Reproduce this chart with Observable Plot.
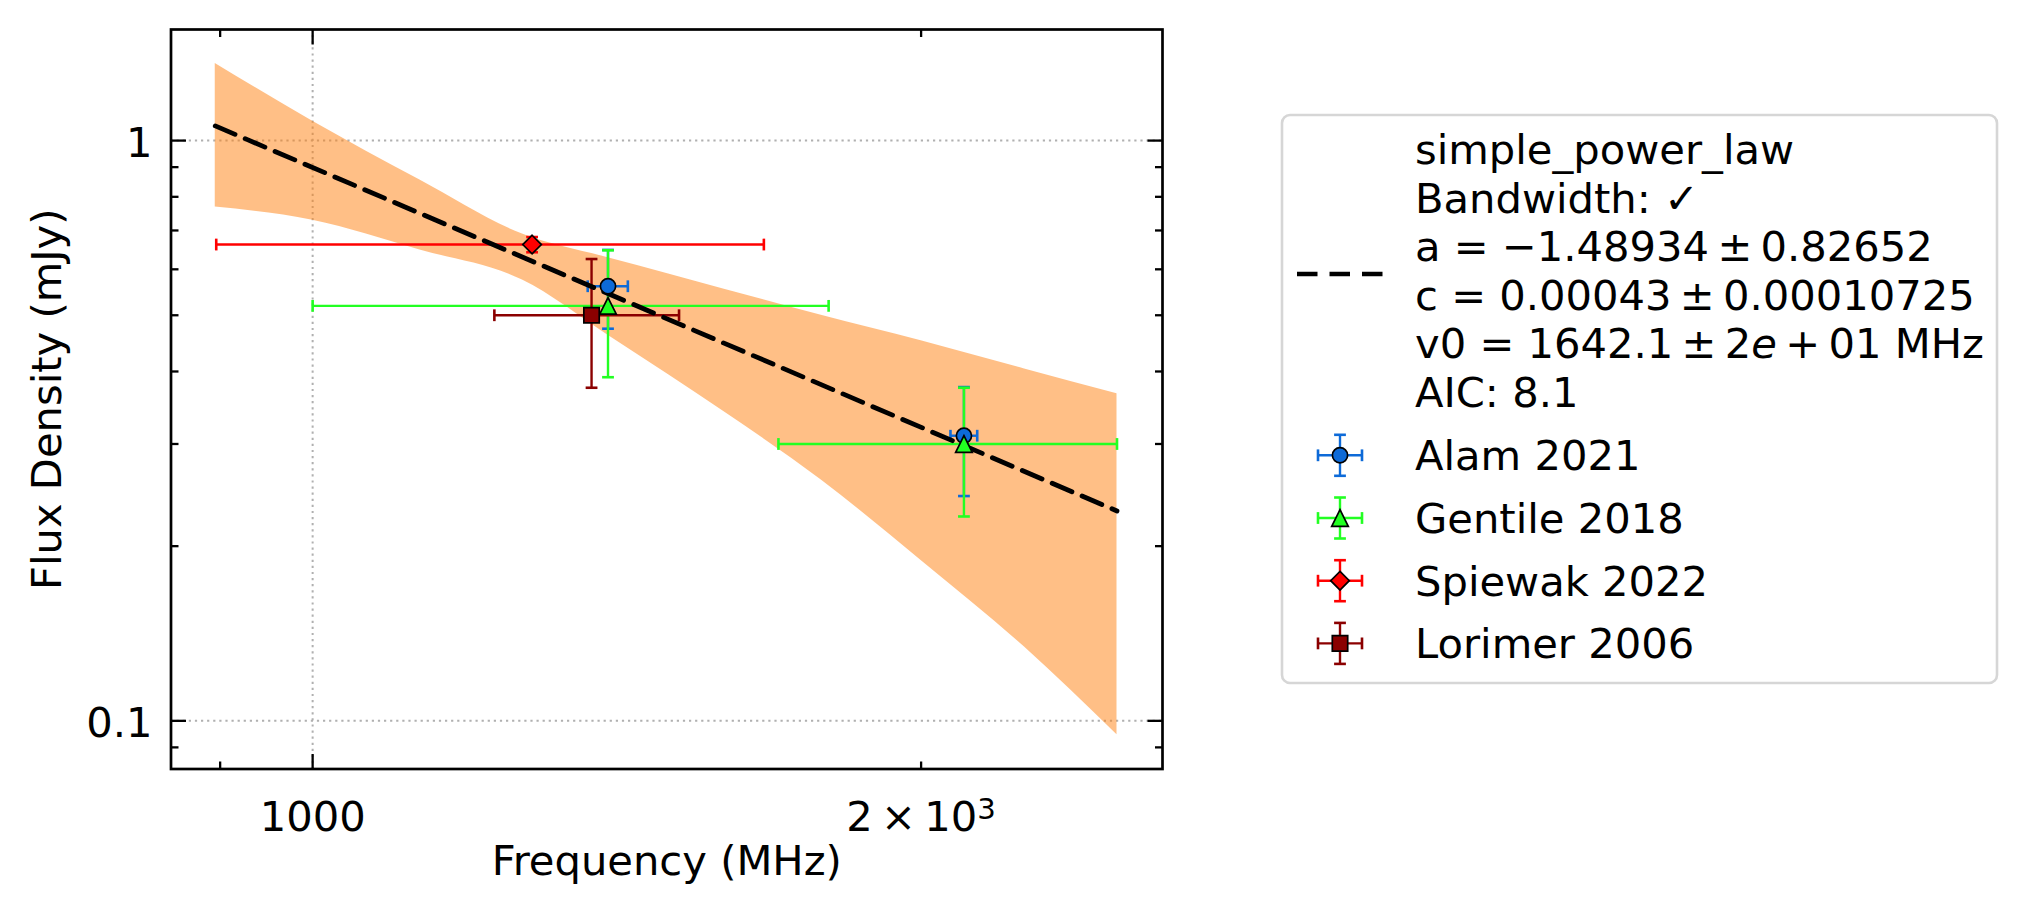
<!DOCTYPE html>
<html><head><meta charset="utf-8">
<script src="https://cdn.jsdelivr.net/npm/d3@7"></script>
<script src="https://cdn.jsdelivr.net/npm/@observablehq/plot@0.6"></script>
<style>
html,body{margin:0;padding:0;background:#fff;}
#wrap{position:relative;width:2029px;height:914px;overflow:hidden;}
#wrap svg{position:absolute;left:0;top:0;}
</style></head><body><div id="wrap"></div>
<script>
// ---------------- data ----------------
const xDomain = [851, 2633];
const yDomain = [0.0826, 1.554];
const xTickMajor = [1000];
const xTickMinor = [900, 2000];
const xTickLabelValues = [1000, 2000];
const xTickLabels = ["1000", "2\u2009\u00d7\u200910^3"];
const yTickMajor = [0.1, 1];
const yTickMinor = [0.09, 0.2, 0.3, 0.4, 0.5, 0.6, 0.7, 0.8, 0.9];
const yTickLabelValues = [0.1, 1];
const yTickLabels = ["0.1", "1"];
const gridX = [1000];
const gridY = [0.1, 1];

const seriesNames = ["Alam 2021", "Gentile 2018", "Spiewak 2022", "Lorimer 2006"];
const seriesColors = ["#0d6ad8", "#22ff22", "#ff0000", "#8b0000"];

const alamFreq = [1400, 2100];
const alamFreqErr = [32, 32];
const alamFlux = [0.561, 0.310];
const alamFluxErr = [0.087, 0.066];

const gentileFreq = [1400, 2100];
const gentileFreqErr = [400, 400];
const gentileFlux = [0.519, 0.300];
const gentileFluxErr = [0.128, 0.075];

const spiewakFreq = [1284];
const spiewakFreqErr = [388];
const spiewakFlux = [0.662];
const spiewakFluxErr = [0.02];

const lorimerFreq = [1374];
const lorimerFreqErr = [144];
const lorimerFlux = [0.50];
const lorimerFluxErr = [0.125];

const fitFreq = [895, 2500];
const fitFlux = [1.06, 0.23];

const bandFreq  = [895, 1000, 1130, 1270, 1400, 1500, 1600, 1785, 2000, 2250, 2500];
const bandUpper = [1.358, 1.080, 0.855, 0.690, 0.628, 0.589, 0.554, 0.500, 0.452, 0.404, 0.366];
const bandLower = [0.768, 0.729, 0.648, 0.575, 0.462, 0.395, 0.340, 0.260, 0.189, 0.134, 0.0946];

const legendFitLines = [
  [["simple_power_law", false]],
  [["Bandwidth: \u2713", false]],
  [["a = \u22121.48934\u2009\u00b1\u20090.82652", false]],
  [["c = 0.00043\u2009\u00b1\u20090.00010725", false]],
  [["v0 = 1642.1\u2009\u00b1\u20092", false], ["e", true], ["\u2009+\u200901 MHz", false]],
  [["AIC: 8.1", false]]
];

// ---------------- helpers ----------------
const FONT = "DejaVu Sans";
const FS = 41.67;
const W = 2029, H = 914;
const FRAME = {left: 170.5, right: 1162, top: 29, bottom: 768.5};

function unit(size) { return Math.sqrt(size / Math.PI); }
const symTri = {draw(c, size) { const s = unit(size); c.moveTo(0, -s); c.lineTo(s, s); c.lineTo(-s, s); c.closePath(); }};
const symDiamond = {draw(c, size) { const s = unit(size); c.moveTo(0, -s); c.lineTo(s, 0); c.lineTo(0, s); c.lineTo(-s, 0); c.closePath(); }};
const symSquare = {draw(c, size) { const s = unit(size); c.moveTo(-s, -s); c.lineTo(s, -s); c.lineTo(s, s); c.lineTo(-s, s); c.closePath(); }};
const symHCap = {draw(c, size) { const s = unit(size); c.moveTo(-s, 0); c.lineTo(s, 0); }};
const symVCap = {draw(c, size) { const s = unit(size); c.moveTo(0, -s); c.lineTo(0, s); }};
const tickSym = (dx, dy) => ({draw(c) { c.moveTo(0, 0); c.lineTo(dx, dy); }});

const markerSpec = [
  {symbol: "circle", r: 7.6},
  {symbol: symTri, r: 8.3},
  {symbol: symDiamond, r: 9.3},
  {symbol: symSquare, r: 7.7}
];

const seriesFreq = [alamFreq, gentileFreq, spiewakFreq, lorimerFreq];
const seriesFreqErr = [alamFreqErr, gentileFreqErr, spiewakFreqErr, lorimerFreqErr];
const seriesFlux = [alamFlux, gentileFlux, spiewakFlux, lorimerFlux];
const seriesFluxErr = [alamFluxErr, gentileFluxErr, spiewakFluxErr, lorimerFluxErr];

const rows = seriesNames.map((name, s) => seriesFreq[s].map((f, i) => ({
  s, name, freq: f, freqErr: seriesFreqErr[s][i], flux: seriesFlux[s][i], fluxErr: seriesFluxErr[s][i]
})));

const band = bandFreq.map((f, i) => ({freq: f, lo: bandLower[i], hi: bandUpper[i]}));
const fit = fitFreq.map((f, i) => ({freq: f, flux: fitFlux[i]}));

const BAR_W = 2.4, CAP_R = 5.9, EDGE = 1.7;

const marks = [];
// grid
marks.push(Plot.ruleX(gridX, {stroke: "#b0b0b0", strokeWidth: 2, strokeDasharray: "2.2,3.9"}));
marks.push(Plot.ruleY(gridY, {stroke: "#b0b0b0", strokeWidth: 2, strokeDasharray: "2.2,3.9"}));
// band
marks.push(Plot.areaY(band, {x: "freq", y1: "lo", y2: "hi", fill: "#ff7f0e", fillOpacity: 0.5, curve: "monotone-x"}));
// error bars
rows.forEach((data, s) => {
  const col = seriesColors[s];
  marks.push(Plot.ruleY(data, {y: "flux", x1: d => d.freq - d.freqErr, x2: d => d.freq + d.freqErr, stroke: col, strokeWidth: BAR_W}));
  marks.push(Plot.ruleX(data, {x: "freq", y1: d => d.flux - d.fluxErr, y2: d => d.flux + d.fluxErr, stroke: col, strokeWidth: BAR_W}));
  const capsV = data.flatMap(d => [{x: d.freq - d.freqErr, y: d.flux}, {x: d.freq + d.freqErr, y: d.flux}]);
  const capsH = data.flatMap(d => [{x: d.freq, y: d.flux - d.fluxErr}, {x: d.freq, y: d.flux + d.fluxErr}]);
  marks.push(Plot.dot(capsV, {x: "x", y: "y", symbol: symVCap, r: CAP_R, fill: "none", stroke: col, strokeWidth: 2.6}));
  marks.push(Plot.dot(capsH, {x: "x", y: "y", symbol: symHCap, r: CAP_R, fill: "none", stroke: col, strokeWidth: 2.6}));
});
// fit line
marks.push(Plot.line(fit, {x: "freq", y: "flux", stroke: "black", strokeWidth: 4.8, strokeDasharray: "21.5,11"}));
// markers
rows.forEach((data, s) => {
  marks.push(Plot.dot(data, {x: "freq", y: "flux", symbol: markerSpec[s].symbol, r: markerSpec[s].r,
    fill: seriesColors[s], stroke: "black", strokeWidth: EDGE}));
});
// ticks (inward, all four sides)
const TK = {stroke: "black", strokeWidth: 2.3, fill: "none"};
const MAJ = 15, MIN = 7.5;
marks.push(Plot.dot(xTickMajor, {x: d => d, y: () => yDomain[0], symbol: tickSym(0, -MAJ), ...TK}));
marks.push(Plot.dot(xTickMinor, {x: d => d, y: () => yDomain[0], symbol: tickSym(0, -MIN), ...TK}));
marks.push(Plot.dot(xTickMajor, {x: d => d, y: () => yDomain[1], symbol: tickSym(0, MAJ), ...TK}));
marks.push(Plot.dot(xTickMinor, {x: d => d, y: () => yDomain[1], symbol: tickSym(0, MIN), ...TK}));
marks.push(Plot.dot(yTickMajor, {y: d => d, x: () => xDomain[0], symbol: tickSym(MAJ, 0), ...TK}));
marks.push(Plot.dot(yTickMinor, {y: d => d, x: () => xDomain[0], symbol: tickSym(MIN, 0), ...TK}));
marks.push(Plot.dot(yTickMajor, {y: d => d, x: () => xDomain[1], symbol: tickSym(-MAJ, 0), ...TK}));
marks.push(Plot.dot(yTickMinor, {y: d => d, x: () => xDomain[1], symbol: tickSym(-MIN, 0), ...TK}));
// frame
marks.push(Plot.frame({stroke: "black", strokeWidth: 2.7}));
// tick labels
const TXT = {fontFamily: FONT, fontSize: FS, fill: "black", lineAnchor: "bottom"};
marks.push(Plot.text(yTickLabelValues, {y: d => d, text: (d, i) => yTickLabels[i], frameAnchor: "left", textAnchor: "end", dx: -18.5, dy: 16, ...TXT}));
marks.push(Plot.text(xTickLabelValues, {x: d => d, text: (d, i) => xTickLabels[i], frameAnchor: "bottom", textAnchor: "middle", dy: 62, ...TXT}));
// axis labels
marks.push(Plot.text(["Frequency (MHz)"], {text: d => d, frameAnchor: "bottom", textAnchor: "middle", dy: 106, ...TXT}));
marks.push(Plot.text(["Flux Density (mJy)"], {text: d => d, frameAnchor: "left", textAnchor: "middle", rotate: -90, dx: -110.5, ...TXT}));

const chart = Plot.plot({
  width: W, height: H,
  marginLeft: FRAME.left, marginRight: W - FRAME.right, marginTop: FRAME.top, marginBottom: H - FRAME.bottom,
  x: {type: "log", domain: xDomain, axis: null},
  y: {type: "log", domain: yDomain, axis: null},
  style: {fontFamily: FONT, fontSize: FS + "px", background: "transparent", overflow: "visible"},
  marks
});
document.getElementById("wrap").appendChild(chart);

// render "^n" in tick labels as a real superscript
d3.select(chart).selectAll("text").each(function () {
  const t = this.textContent;
  if (t.includes("^")) {
    const [base, sup] = t.split("^");
    const el = d3.select(this);
    el.text(null);
    el.append("tspan").text(base);
    el.append("tspan").attr("font-size", (FS * 0.7) + "px").attr("dy", -12).text(sup);
  }
});

// ---------------- legend (overlay svg) ----------------
const leg = d3.select("#wrap").append("svg").attr("width", W).attr("height", H)
  .style("font-family", FONT).style("font-size", FS + "px");
leg.append("rect").attr("x", 1282).attr("y", 115).attr("width", 715).attr("height", 568)
  .attr("rx", 8).attr("fill", "white").attr("stroke", "#d6d6d6").attr("stroke-width", 2.6);
const TX = 1415;
const fitBase = 164, fitStep = 48.5;
legendFitLines.forEach((parts, i) => {
  const t = leg.append("text").attr("x", TX).attr("y", fitBase + i * fitStep);
  parts.forEach(([s, it]) => t.append("tspan").text(s).attr("font-style", it ? "italic" : null));
});
leg.append("line").attr("x1", 1297).attr("x2", 1383).attr("y1", 274).attr("y2", 274)
  .attr("stroke", "black").attr("stroke-width", 4.6).attr("stroke-dasharray", "20.5,12");
const entryBase = 470.3, entryStep = 62.7;
const symbolFns = [null, symTri, symDiamond, symSquare];
seriesNames.forEach((name, s) => {
  const by = entryBase + s * entryStep, cy = by - 15, cx = 1340, col = seriesColors[s];
  const g = leg.append("g");
  g.append("line").attr("x1", cx - 22).attr("x2", cx + 22).attr("y1", cy).attr("y2", cy).attr("stroke", col).attr("stroke-width", BAR_W);
  g.append("line").attr("x1", cx).attr("x2", cx).attr("y1", cy - 20.5).attr("y2", cy + 20.5).attr("stroke", col).attr("stroke-width", BAR_W);
  [[cx - 22, cy, 0], [cx + 22, cy, 0], [cx, cy - 20.5, 1], [cx, cy + 20.5, 1]].forEach(([x, y, h]) => {
    if (h) g.append("line").attr("x1", x - CAP_R).attr("x2", x + CAP_R).attr("y1", y).attr("y2", y).attr("stroke", col).attr("stroke-width", 2.6);
    else g.append("line").attr("x1", x).attr("x2", x).attr("y1", y - CAP_R).attr("y2", y + CAP_R).attr("stroke", col).attr("stroke-width", 2.6);
  });
  if (s === 0) {
    g.append("circle").attr("cx", cx).attr("cy", cy).attr("r", markerSpec[0].r).attr("fill", col).attr("stroke", "black").attr("stroke-width", EDGE);
  } else {
    const p = d3.path(); const r = markerSpec[s].r;
    symbolFns[s].draw(p, r * r * Math.PI);
    g.append("path").attr("d", p.toString()).attr("transform", `translate(${cx},${cy})`).attr("fill", col).attr("stroke", "black").attr("stroke-width", EDGE);
  }
  g.append("text").attr("x", TX).attr("y", by).text(name);
});
</script></body></html>
